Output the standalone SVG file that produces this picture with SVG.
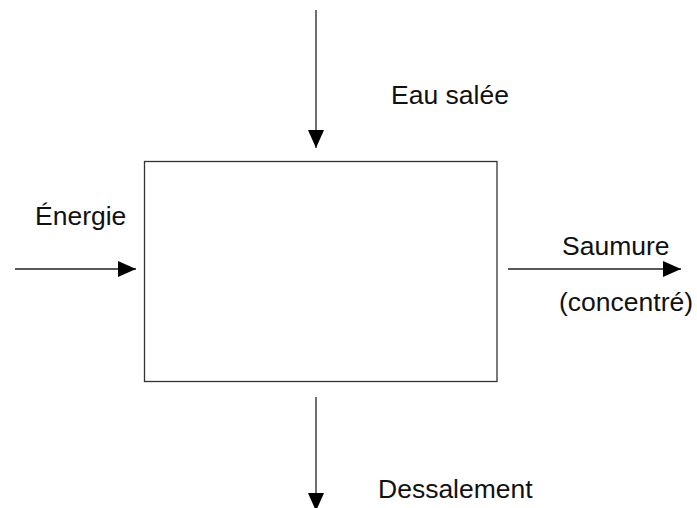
<svg xmlns="http://www.w3.org/2000/svg" width="697" height="508" viewBox="0 0 697 508">
<style>
.t{font-family:"Liberation Sans",Arial,sans-serif;font-size:26.5px;fill:#111}
.l{stroke:#222;stroke-width:1.3;fill:none}
</style>
<defs>
<marker id="a" markerWidth="18" markerHeight="16" refX="18" refY="8" orient="auto" markerUnits="userSpaceOnUse">
<path d="M0,0 L18,8 L0,16 Z" fill="#000"/>
</marker>
</defs>
<rect width="697" height="508" fill="#fff"/>
<g id="process">
<rect x="144.5" y="161.5" width="352.5" height="220" fill="#fff" stroke="#333" stroke-width="1.3"/>
</g>
<g id="connectors">
<line class="l" x1="316" y1="10" x2="316" y2="148" marker-end="url(#a)"/>
<line class="l" x1="15" y1="269" x2="136" y2="269" marker-end="url(#a)"/>
<line class="l" x1="508" y1="269" x2="681" y2="269" marker-end="url(#a)"/>
<line class="l" x1="316" y1="397" x2="316" y2="511" marker-end="url(#a)"/>
</g>
<g id="label-eau"><text class="t" x="391" y="104">Eau salée</text></g>
<g id="label-energie"><text class="t" x="35" y="225">Énergie</text></g>
<g id="label-saumure"><text class="t" x="562" y="255">Saumure</text>
<text class="t" x="559" y="311">(concentré)</text></g>
<g id="label-dessalement"><text class="t" x="378" y="498">Dessalement</text></g>
</svg>
